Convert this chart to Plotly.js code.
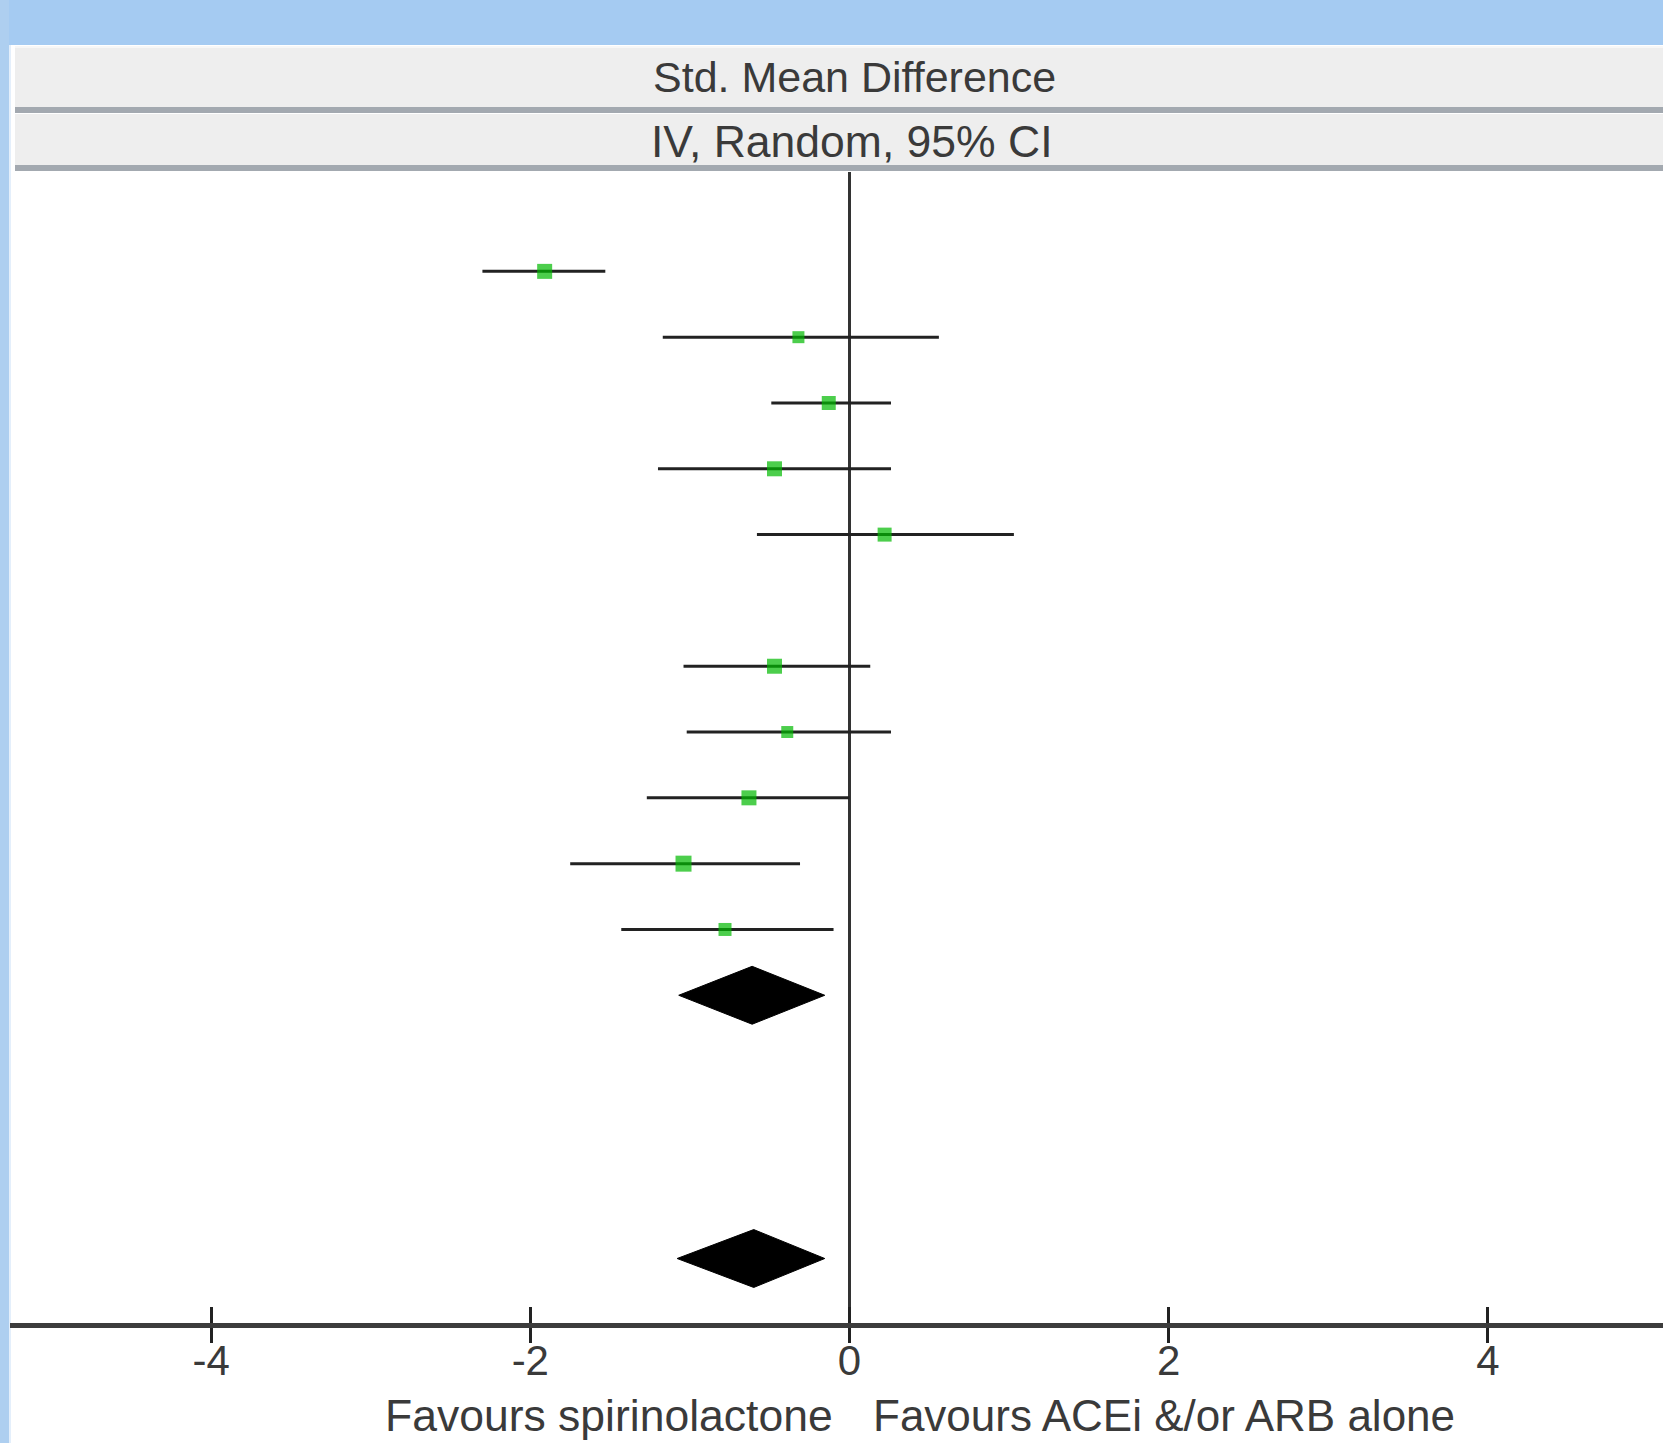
<!DOCTYPE html>
<html>
<head>
<meta charset="utf-8">
<script src="https://cdn.plot.ly/plotly-3.0.1.min.js"></script>
<style>html,body{margin:0;padding:0;background:#fff;}#chart{width:1663px;height:1443px;}</style>
</head>
<body>
<div id="chart"></div>
<script>
// ---- data ----
const studyRows = [0, 1, 2, 3, 4, 6, 7, 8, 9, 10];
const smdEst = [-1.91, -0.32, -0.13, -0.47, 0.22, -0.47, -0.39, -0.63, -1.04, -0.78];
const smdLow = [-2.30, -1.17, -0.49, -1.20, -0.58, -1.04, -1.02, -1.27, -1.75, -1.43];
const smdHigh = [-1.53, 0.56, 0.26, 0.26, 1.03, 0.13, 0.26, 0.00, -0.31, -0.10];
const summaryRows = [11, 15];
const summaryEst = [-0.61, -0.60];
const summaryLow = [-1.07, -1.08];
const summaryHigh = [-0.155, -0.155];
const tickValues = [-4, -2, 0, 2, 4];
const tickLabels = ['-4', '-2', '0', '2', '4'];
const headerLine1 = 'Std. Mean Difference';
const headerLine2 = 'IV, Random, 95% CI';
const leftLabel = 'Favours spirinolactone';
const rightLabel = 'Favours ACEi &/or ARB alone';

// ---- style ----
const markerSizes = [15, 12, 14, 15, 14, 15, 12, 15, 16, 13];
const W = 1663, H = 1443;
const M = {l: 10, r: 0, t: 172, b: 120};
const PW = W - M.l - M.r, PH = H - M.t - M.b;
const px = x => (x - M.l) / PW;
const py = y => (H - M.b - y) / PH;
const FONT = 'Liberation Sans, Arial, sans-serif';
const TXT = '#3a3a3a';
const diamondHalf = 0.44;

const traces = [];
traces.push({
  type: 'scatter', mode: 'markers', x: smdEst, y: studyRows,
  marker: {symbol: 'square', size: markerSizes, color: '#00b900', line: {width: 0}},
  error_x: {type: 'data', symmetric: false,
    array: smdHigh.map((h, i) => h - smdEst[i]),
    arrayminus: smdLow.map((l, i) => smdEst[i] - l),
    width: 0, thickness: 3, color: '#222'},
  hoverinfo: 'skip', showlegend: false, cliponaxis: false
});
summaryRows.forEach((r, i) => {
  traces.push({
    type: 'scatter', mode: 'lines', fill: 'toself', fillcolor: '#000',
    x: [summaryLow[i], summaryEst[i], summaryHigh[i], summaryEst[i], summaryLow[i]],
    y: [r, r - diamondHalf, r, r + diamondHalf, r],
    line: {color: '#000', width: 1}, hoverinfo: 'skip', showlegend: false
  });
});
// empty trace so the overlay axis (inner tick halves) is drawn
traces.push({type: 'scatter', x: [], y: [], xaxis: 'x2', yaxis: 'y', hoverinfo: 'skip', showlegend: false});

const xr = [(M.l - 849.5) / 159.6, (W - 849.5) / 159.6];

const shapes = [
  {type: 'rect', xref: 'paper', yref: 'paper', x0: px(0), x1: px(W), y0: py(45), y1: py(0), fillcolor: '#a5cbf2', line: {width: 0}, layer: 'below'},
  {type: 'rect', xref: 'paper', yref: 'paper', x0: px(0), x1: px(9), y0: py(H), y1: py(0), fillcolor: '#aecff0', line: {width: 0}, layer: 'below'},
  {type: 'rect', xref: 'paper', yref: 'paper', x0: px(9), x1: px(11), y0: py(H), y1: py(45), fillcolor: '#e4effb', line: {width: 0}, layer: 'below'},
  {type: 'rect', xref: 'paper', yref: 'paper', x0: px(15), x1: px(W), y0: py(107), y1: py(48), fillcolor: '#eeeeee', line: {width: 0}, layer: 'below'},
  {type: 'rect', xref: 'paper', yref: 'paper', x0: px(15), x1: px(W), y0: py(48), y1: py(46), fillcolor: '#f7f7f7', line: {width: 0}, layer: 'below'},
  {type: 'rect', xref: 'paper', yref: 'paper', x0: px(15), x1: px(W), y0: py(113), y1: py(107), fillcolor: '#a3a9b0', line: {width: 0}, layer: 'below'},
  {type: 'rect', xref: 'paper', yref: 'paper', x0: px(15), x1: px(W), y0: py(165), y1: py(114), fillcolor: '#eeeeee', line: {width: 0}, layer: 'below'},
  {type: 'rect', xref: 'paper', yref: 'paper', x0: px(15), x1: px(W), y0: py(171), y1: py(165), fillcolor: '#a3a9b0', line: {width: 0}, layer: 'below'}
];

const annotations = [
  {text: headerLine1, xref: 'paper', yref: 'paper', x: px(854), y: py(77), xanchor: 'center', yanchor: 'middle', showarrow: false, font: {family: FONT, size: 43, color: TXT}},
  {text: headerLine2, xref: 'paper', yref: 'paper', x: px(852), y: py(142), xanchor: 'center', yanchor: 'middle', showarrow: false, font: {family: FONT, size: 44.5, color: TXT}},
  {text: leftLabel, xref: 'paper', yref: 'paper', x: px(835), y: py(1415), xanchor: 'right', yanchor: 'middle', showarrow: false, font: {family: FONT, size: 44.5, color: TXT}},
  {text: rightLabel.replace('&', '&amp;'), xref: 'paper', yref: 'paper', x: px(871), y: py(1415), xanchor: 'left', yanchor: 'middle', showarrow: false, font: {family: FONT, size: 44, color: TXT}}
];

const layout = {
  width: W, height: H, margin: M,
  paper_bgcolor: '#ffffff', plot_bgcolor: '#ffffff',
  showlegend: false,
  xaxis: {range: xr, tickvals: tickValues, ticktext: tickLabels, ticks: 'outside', ticklen: 15, tickwidth: 3, tickcolor: '#222',
    ticklabelstandoff: -18,
    showline: true, linecolor: '#3c3c3c', linewidth: 5, showgrid: false, zeroline: true, zerolinecolor: '#333', zerolinewidth: 3,
    tickfont: {family: FONT, size: 42, color: TXT}, fixedrange: true},
  xaxis2: {range: xr, overlaying: 'x', anchor: 'y', side: 'bottom', tickvals: tickValues, ticks: 'inside', ticklen: 16, tickwidth: 3, tickcolor: '#222',
    showticklabels: false, showline: false, showgrid: false, zeroline: false, fixedrange: true},
  yaxis: {range: [15.98, -1.51], visible: false, showgrid: false, zeroline: false, fixedrange: true},
  shapes: shapes, annotations: annotations
};

Plotly.newPlot('chart', traces, layout, {displayModeBar: false, staticPlot: true});
</script>
</body>
</html>
